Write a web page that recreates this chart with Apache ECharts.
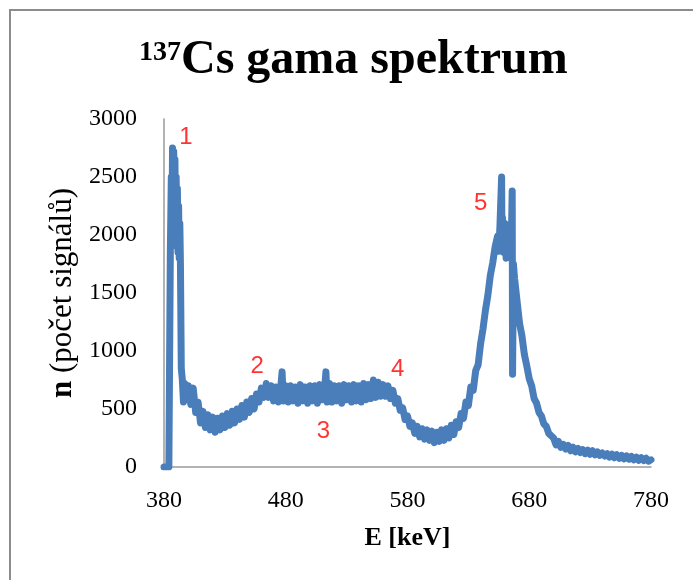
<!DOCTYPE html>
<html>
<head>
<meta charset="utf-8">
<script src="https://cdn.jsdelivr.net/npm/echarts@6/dist/echarts.min.js"></script>
<style>
html,body{margin:0;padding:0;background:#fff;}
#chart{width:693px;height:580px;}
</style>
</head>
<body>
<div id="chart"></div>
<script>
// energie [keV]
var energies = [
380,382,384,385,385.2,386,386.5,387,387.5,388,388.5,389,389.5,390,390.5,391,391.5,392,392.5,393,393.5,394.2,395,396,397,398,
400,402,404,406,408,410,412,414,416,418,420,422,424,426,428,430,432,434,436,438,
440,442,444,446,448,450,452,454,456,458,460,462,464,466,468,470,472,474,476,477,478,
480,482,484,486,488,490,492,494,496,498,500,502,504,506,508,510,512,513,514,516,518,
520,522,524,526,528,530,532,534,536,538,540,542,544,546,548,550,552,554,556,558,
560,562,564,566,568,570,572,574,576,578,580,582,584,586,588,590,592,594,596,598,
600,602,604,606,608,610,612,614,616,618,620,622,624,626,628,630,632,634,636,638,
640,642,644,646,648,650,652,654,655,656,657.3,657.6,658,659,660,661,662,663,664,665,666,666.3,667,668,
670,672,674,676,678,680,682,684,686,688,690,692,694,696,698,
700,702,704,706,708,710,712,714,716,718,720,722,724,726,728,730,732,734,736,738,
740,742,744,746,748,750,752,754,756,758,760,762,764,766,768,770,772,774,776,778,780
];
// pocet signalu
var counts = [
0,0,0,0,1850,2500,2000,2750,2150,2720,2200,2650,2000,2500,1900,2400,1850,2250,1800,2100,1750,850,760,560,720,580,
700,540,680,470,560,380,480,340,450,320,430,300,420,320,440,340,460,360,480,380,
500,410,530,430,560,470,590,500,630,560,680,600,720,600,700,570,690,560,700,820,570,
700,560,700,570,690,550,710,570,690,550,700,570,700,550,710,580,690,820,560,720,560,
700,570,700,550,710,580,700,560,710,570,700,560,720,580,710,590,750,600,730,610,
710,610,700,590,660,550,590,490,510,410,440,350,380,290,350,260,330,240,320,230,
310,210,300,220,320,230,330,250,360,280,390,340,460,420,560,530,690,660,830,880,
1060,1190,1350,1480,1650,1760,1900,1990,1860,2100,2500,1900,2150,1850,2100,1800,2050,1850,2000,1800,2380,800,1750,1620,
1430,1240,1130,970,870,760,700,590,550,470,440,370,350,290,270,
250,190,220,170,195,155,185,140,170,130,160,125,150,115,145,110,140,105,130,100,
120,95,115,85,110,80,105,75,100,70,95,68,90,62,85,58,80,55,75,50,62
];
// cisla piku (poloha v souradnicich grafu)
var peakNames = ['1','2','3','4','5'];
var peakE = [398, 456.5, 511, 572, 640];
var peakN = [2840, 865, 305, 845, 2275];

var xTicks = [380, 480, 580, 680, 780];

var lineData = [];
for (var i = 0; i < energies.length; i++) {
	lineData.push([energies[i], counts[i]]);
}
var labelData = [];
for (var j = 0; j < peakNames.length; j++) {
	labelData.push({value: [peakE[j], peakN[j]], name: peakNames[j]});
}

var serif = "'Liberation Serif', 'Times New Roman', serif";
var myChart = echarts.init(document.getElementById('chart'));
var option = {
	backgroundColor: '#fff',
	animation: false,
	title: {
		text: '{sup|137}{main|Cs gama spektrum}',
		left: 134,
		top: 31,
		textStyle: {
			rich: {
				sup: {fontFamily: serif, fontSize: 28, fontWeight: 'bold', color: '#000', verticalAlign: 'top', lineHeight: 28, padding: [3, 0, 0, 0]},
				main: {fontFamily: serif, fontSize: 48, fontWeight: 'bold', color: '#000', lineHeight: 50}
			}
		}
	},
	grid: {left: 164, right: 42, top: 119, bottom: 113, containLabel: false},
	xAxis: {
		type: 'value',
		min: 380, max: 780, interval: 100,
		name: 'E [keV]',
		nameLocation: 'middle',
		nameGap: 58,
		nameTextStyle: {fontFamily: serif, fontSize: 26, fontWeight: 'bold', color: '#000'},
		axisLine: {show: true, lineStyle: {color: '#9a9a9a', width: 1.5}},
		axisTick: {show: false},
		splitLine: {show: false},
		axisLabel: {fontFamily: serif, fontSize: 24, color: '#000', margin: 22,
			formatter: function (v) { return xTicks.indexOf(v) >= 0 ? String(v) : ''; }}
	},
	yAxis: {
		type: 'value',
		min: 0, max: 3000, interval: 500,
		name: '{b|n}{r| (počet signálů)}',
		nameLocation: 'middle',
		nameGap: 70,
		nameTextStyle: {
			rich: {
				b: {fontFamily: serif, fontSize: 31, fontWeight: 'bold', color: '#000'},
				r: {fontFamily: serif, fontSize: 31, color: '#000'}
			}
		},
		axisLine: {show: true, lineStyle: {color: '#9a9a9a', width: 1.5}},
		axisTick: {show: false},
		splitLine: {show: false},
		axisLabel: {fontFamily: serif, fontSize: 24, color: '#000', margin: 27,
			formatter: function (v) { return String(v); }}
	},
	graphic: [{
		type: 'rect',
		shape: {x: 10, y: 10, width: 720, height: 620},
		style: {fill: 'none', stroke: '#8c8c8c', lineWidth: 2},
		silent: true
	}],
	series: [{
		type: 'line',
		data: lineData,
		showSymbol: false,
		symbol: 'none',
		sampling: false,
		lineStyle: {color: '#4A7EBB', width: 7, join: 'round', cap: 'round'},
		z: 3
	}, {
		type: 'scatter',
		data: labelData,
		symbolSize: 0,
		label: {
			show: true,
			position: 'inside',
			formatter: '{b}',
			fontFamily: "'Liberation Sans', Arial, sans-serif",
			fontSize: 24,
			color: '#ff0000'
		},
		z: 4
	}]
};
myChart.setOption(option);
</script>
</body>
</html>
